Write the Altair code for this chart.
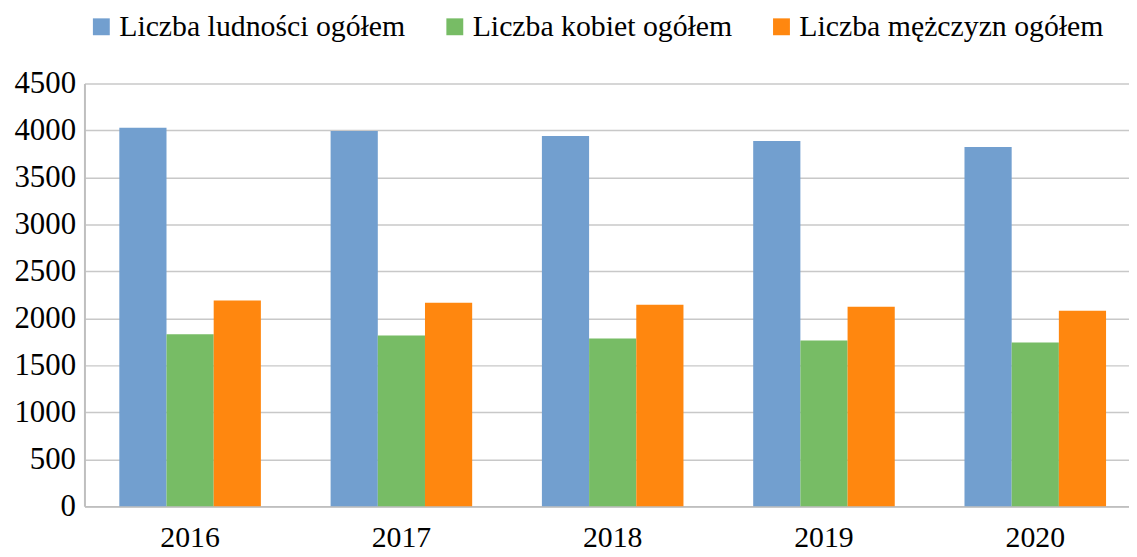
import altair as alt
import pandas as pd

years = ["2016", "2017", "2018", "2019", "2020"]
series = ["Liczba ludności ogółem", "Liczba kobiet ogółem", "Liczba mężczyzn ogółem"]
total = [4028, 3993, 3940, 3887, 3824]
women = [1831, 1817, 1785, 1764, 1743]
men = [2190, 2166, 2145, 2123, 2081]
colors = ["#729FCF", "#77BC65", "#FF870F"]
y_ticks = [0, 500, 1000, 1500, 2000, 2500, 3000, 3500, 4000, 4500]

rows = []
for i, yr in enumerate(years):
    for s, vals in zip(series, [total, women, men]):
        rows.append({"rok": yr, "seria": s, "wartosc": vals[i]})
df = pd.DataFrame(rows)

FONT = "Liberation Serif"

chart = alt.Chart(df).mark_bar().encode(
    x=alt.X(
        "rok:N", sort=years, title=None,
        scale=alt.Scale(range=[0, 1064], paddingInner=0.33, paddingOuter=0.165),
        axis=alt.Axis(labelAngle=0, labelFontSize=30, labelFont=FONT, labelColor="black",
                      ticks=False, domainColor="#BFBFBF", domainWidth=2, labelPadding=16),
    ),
    xOffset=alt.XOffset("seria:N", sort=series,
                        scale=alt.Scale(domain=series, paddingInner=0, paddingOuter=0)),
    y=alt.Y(
        "wartosc:Q", title=None,
        scale=alt.Scale(domain=[0, 4500], nice=False),
        axis=alt.Axis(values=y_ticks, format="d", labelFontSize=31, labelFont=FONT,
                      labelColor="black", ticks=False, domainColor="#BFBFBF", domainWidth=2,
                      labelPadding=9, gridColor="#C8C8C8", gridWidth=1.5),
    ),
    color=alt.Color(
        "seria:N", sort=series,
        scale=alt.Scale(domain=series, range=colors),
        legend=alt.Legend(orient="none", direction="horizontal", columns=3,
                          legendX=2, legendY=-72, title=None,
                          symbolType="square", symbolSize=289, symbolStrokeWidth=0,
                          labelFontSize=30, labelFont=FONT, labelColor="black",
                          labelLimit=0, columnPadding=34, labelOffset=3),
    ),
).properties(
    width=1052, height=426,
    autosize=alt.AutoSizeParams(type="none"),
    padding={"left": 77, "top": 74, "right": 0, "bottom": 41},
).configure_view(stroke=None)

chart.save("out.html", embed_options={"renderer": "svg", "actions": False})
